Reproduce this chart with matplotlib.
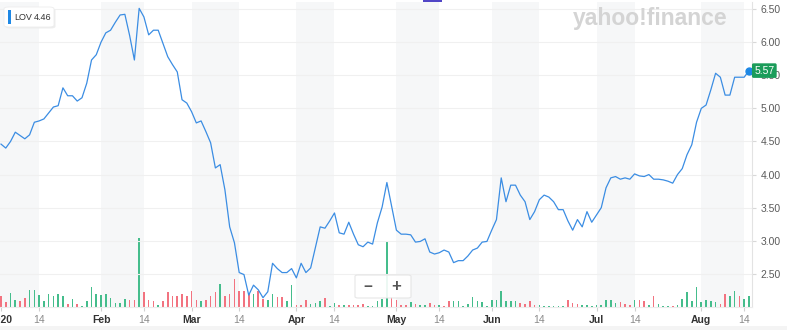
import numpy as np
import pandas as pd
import matplotlib
matplotlib.use('Agg')
import matplotlib.pyplot as plt
import matplotlib.transforms as mtrans
from matplotlib.patches import FancyBboxPatch, Rectangle

#############################
## data (LOV daily close + volume, Jan 2 - Aug 17 2020)

ticker = 'LOV'
holidays = ['2020-01-20', '2020-02-17', '2020-04-10', '2020-05-25', '2020-07-03']

close = [4.46, 4.40, 4.50, 4.64, 4.59, 4.54, 4.60, 4.79, 4.81, 4.84,
         4.93, 5.02, 5.04, 5.31, 5.19, 5.19, 5.11, 5.16, 5.38, 5.73,
         5.81, 6.00, 6.14, 6.18, 6.30, 6.41, 6.42, 6.10, 5.73, 6.51,
         6.38, 6.11, 6.18, 6.18, 5.98, 5.78, 5.66, 5.55, 5.13, 5.08,
         4.95, 4.78, 4.81, 4.65, 4.48, 4.10, 4.15, 3.77, 3.21, 2.97,
         2.52, 2.49, 2.18, 2.33, 2.26, 2.14, 2.23, 2.66, 2.58, 2.52,
         2.52, 2.58, 2.44, 2.66, 2.52, 2.59, 2.90, 3.21, 3.19, 3.30,
         3.42, 3.12, 3.10, 3.28, 3.10, 2.94, 2.91, 2.98, 2.95, 3.27,
         3.51, 3.88, 3.52, 3.16, 3.10, 3.10, 3.09, 2.98, 2.99, 3.03,
         2.83, 2.80, 2.82, 2.86, 2.83, 2.67, 2.70, 2.70, 2.77, 2.86,
         2.89, 2.98, 2.99, 3.16, 3.32, 3.95, 3.59, 3.84, 3.84, 3.69,
         3.59, 3.32, 3.44, 3.62, 3.69, 3.66, 3.59, 3.47, 3.47, 3.30,
         3.16, 3.32, 3.21, 3.44, 3.28, 3.39, 3.50, 3.80, 3.95, 3.97,
         3.93, 3.95, 3.93, 4.01, 3.98, 3.97, 4.00, 3.93, 3.93, 3.92,
         3.90, 3.87, 4.00, 4.09, 4.30, 4.45, 4.79, 5.00, 5.05, 5.28,
         5.53, 5.47, 5.20, 5.20, 5.47, 5.47, 5.47, 5.57]

# volume, 10k shares
volume = [34, 14, 42, 22, 17, 27, 50, 50, 37, 17,
          40, 34, 40, 34, 10, 25, 10, 4, 19, 60,
          40, 37, 40, 27, 12, 12, 25, 20, 22, 207,
          44, 22, 17, 7, 19, 45, 34, 34, 40, 34,
          47, 22, 17, 22, 34, 44, 70, 34, 40, 84,
          49, 49, 40, 40, 49, 25, 22, 40, 30, 30,
          17, 65, 7, 7, 20, 9, 12, 17, 27, 4,
          12, 7, 7, 7, 7, 7, 9, 4, 4, 19,
          25, 197, 30, 22, 7, 7, 14, 10, 7, 7,
          12, 7, 7, 4, 17, 19, 19, 3, 10, 29,
          19, 14, 4, 22, 22, 47, 17, 17, 17, 12,
          10, 17, 7, 7, 4, 2, 2, 2, 2, 22,
          12, 10, 7, 7, 2, 7, 7, 22, 20, 12,
          14, 10, 7, 20, 20, 17, 7, 34, 10, 2,
          2, 4, 7, 24, 45, 17, 59, 14, 20, 19,
          14, 10, 40, 34, 47, 34, 25, 32]

# up (1) / down (0) day for volume colour
vol_up = [0, 0, 1, 1, 0, 0, 1, 1, 1, 1,
          1, 1, 1, 1, 0, 1, 0, 1, 1, 1,
          1, 1, 1, 1, 1, 1, 1, 0, 0, 1,
          0, 0, 0, 1, 0, 0, 0, 0, 0, 0,
          0, 0, 1, 0, 0, 0, 1, 0, 0, 0,
          0, 0, 0, 1, 0, 0, 1, 1, 0, 0,
          1, 1, 0, 0, 0, 1, 1, 1, 0, 1,
          1, 0, 1, 0, 0, 0, 0, 1, 1, 1,
          1, 1, 0, 0, 0, 0, 1, 0, 1, 1,
          0, 0, 1, 0, 0, 1, 1, 1, 1, 1,
          1, 1, 1, 1, 1, 1, 1, 1, 1, 0,
          0, 0, 0, 1, 1, 1, 1, 1, 1, 0,
          0, 0, 1, 1, 1, 1, 1, 1, 1, 1,
          0, 0, 0, 1, 0, 0, 1, 0, 1, 1,
          1, 0, 1, 1, 1, 1, 1, 1, 1, 1,
          1, 0, 0, 1, 1, 0, 1, 1]

price_ticks = [2.5, 3.0, 3.5, 4.0, 4.5, 5.0, 5.5, 6.0, 6.5]

#############################

plt.rcParams['font.family'] = ['Liberation Sans', 'DejaVu Sans']

dates = pd.bdate_range('2020-01-02', '2020-08-17')
dates = dates.drop(pd.to_datetime(holidays))
idx = np.arange(len(dates))

## tick positions: first trading day of month + first on/after the 14th
month_pos, mid_pos, tick_pos, tick_lab = [], [], [], []
for m in sorted(set(dates.month)):
    sel = np.where(dates.month == m)[0]
    first = sel[0]
    mid = sel[dates[sel].day >= 14][0]
    month_pos.append(first)
    mid_pos.append(mid)
    tick_pos += [first, mid]
    tick_lab += ['2020' if m == 1 else dates[first].strftime('%b'), '14']

W, H = 787, 330
fig = plt.figure(figsize=(W/100, H/100), dpi=100)
pos = [0, 23/H, 752/W, 305/H]
axv = fig.add_axes(pos)
ax = fig.add_axes(pos, sharex=axv)
ax.patch.set_alpha(0)

x_left = -0.21
x_right = (752 - 1) / 4.764
axv.set_xlim(x_left, x_right)

## alternating shaded bands (month start -> 14th)
for a, b in zip(month_pos, mid_pos):
    a = x_left if a == 0 else a
    axv.axvspan(a, b, color='#f6f7f8', lw=0, zorder=0)

## volume bars
colors = ['#45bd8c' if u else '#f27380' for u in vol_up]
axv.bar(idx, volume, width=0.34, color=colors, zorder=2)
axv.set_ylim(0, 915)
axv.axis('off')

## price
ax.set_ylim(2.0, 6.606)
for p in price_ticks:
    ax.axhline(p, color='#f0f0f0', lw=0.8, zorder=0)
ax.plot(idx, close, color='#3b8de3', lw=0.9, zorder=3)
ax.plot(idx[-1], close[-1], 'o', ms=5, color='#1e88e5', zorder=4, clip_on=False)

ax.yaxis.tick_right()
ax.set_yticks(price_ticks)
ax.set_yticklabels([f'{p:.2f}' for p in price_ticks])
ax.tick_params(axis='y', length=3, width=0.8, color='#d8d8d8', labelsize=7.5,
               labelcolor='#5a5a5a', pad=3)
ax.set_xticks(tick_pos)
ax.set_xticklabels(tick_lab)
ax.tick_params(axis='x', length=3, width=0.8, color='#d0d0d0', labelsize=7.5, pad=3)
for t, lab in zip(ax.get_xticklabels(), tick_lab):
    if lab == '14':
        t.set_color('#8a8a8a')
    else:
        t.set_color('#333333')
        t.set_fontweight('bold')
for s in ['left', 'top']:
    ax.spines[s].set_visible(False)
ax.spines['right'].set_color('#e3e3e3')
ax.spines['bottom'].set_color('#ececec')
ax.spines['right'].set_linewidth(0.8)
ax.spines['bottom'].set_linewidth(0.8)

## last price tag
trans = mtrans.blended_transform_factory(ax.transAxes, ax.transData)
ax.text(1.003, close[-1], f'{close[-1]:.2f}', transform=trans, ha='left', va='center',
        color='white', fontsize=7.5, clip_on=False, zorder=5,
        bbox=dict(boxstyle='round,pad=0.22,rounding_size=0.15', fc='#1b9c5a', ec='none'))

## figure-level decorations, pixel coords
def fx(x):
    return x / W

def fy(y):
    return 1 - y / H

fig.text(fx(650), fy(18), 'yahoo!finance', ha='center', va='center', fontsize=16.5,
         fontweight='heavy', color='#d4d4d4', zorder=1)

# ticker box
fig.patches.append(FancyBboxPatch((fx(5.5), fy(28.5)), fx(50), 20/H,
                                  boxstyle='round,pad=0,rounding_size=0.006',
                                  transform=fig.transFigure, fc='#eeeeee', ec='none', zorder=4))
fig.patches.append(FancyBboxPatch((fx(4), fy(27)), fx(50), 20/H,
                                  boxstyle='round,pad=0,rounding_size=0.006',
                                  transform=fig.transFigure, fc='white', ec='#ededed', lw=0.6, zorder=5))
fig.patches.append(Rectangle((fx(8), fy(24)), fx(2.5), 14/H, transform=fig.transFigure,
                             fc='#1e88e5', ec='none', zorder=6))
fig.text(fx(14), fy(17), ticker, ha='left', va='center', fontsize=6.5, color='#333333', zorder=6)
fig.text(fx(51), fy(17), f'{close[0]:.2f}', ha='right', va='center', fontsize=6.5, color='#333333', zorder=6)

# zoom control
fig.patches.append(FancyBboxPatch((fx(355), fy(298)), fx(56), 23/H,
                                  boxstyle='round,pad=0,rounding_size=0.004',
                                  transform=fig.transFigure, fc='white', ec='#e4e4e4',
                                  lw=0.8, alpha=0.9, zorder=5))
fig.text(fx(368), fy(287), '\u2212', ha='center', va='center', fontsize=11,
         fontweight='bold', color='#555555', zorder=6)
fig.text(fx(396), fy(287), '+', ha='center', va='center', fontsize=12,
         fontweight='bold', color='#555555', zorder=6)

# small marker on top edge + bottom strip
fig.patches.append(Rectangle((fx(423), fy(2)), fx(19), 2/H, transform=fig.transFigure,
                             fc='#5146c6', ec='none', zorder=6))
fig.patches.append(Rectangle((0, 0), 1, 4/H, transform=fig.transFigure,
                             fc='#f4f4f4', ec='none', zorder=0))

fig.savefig('out.png', dpi=100)
